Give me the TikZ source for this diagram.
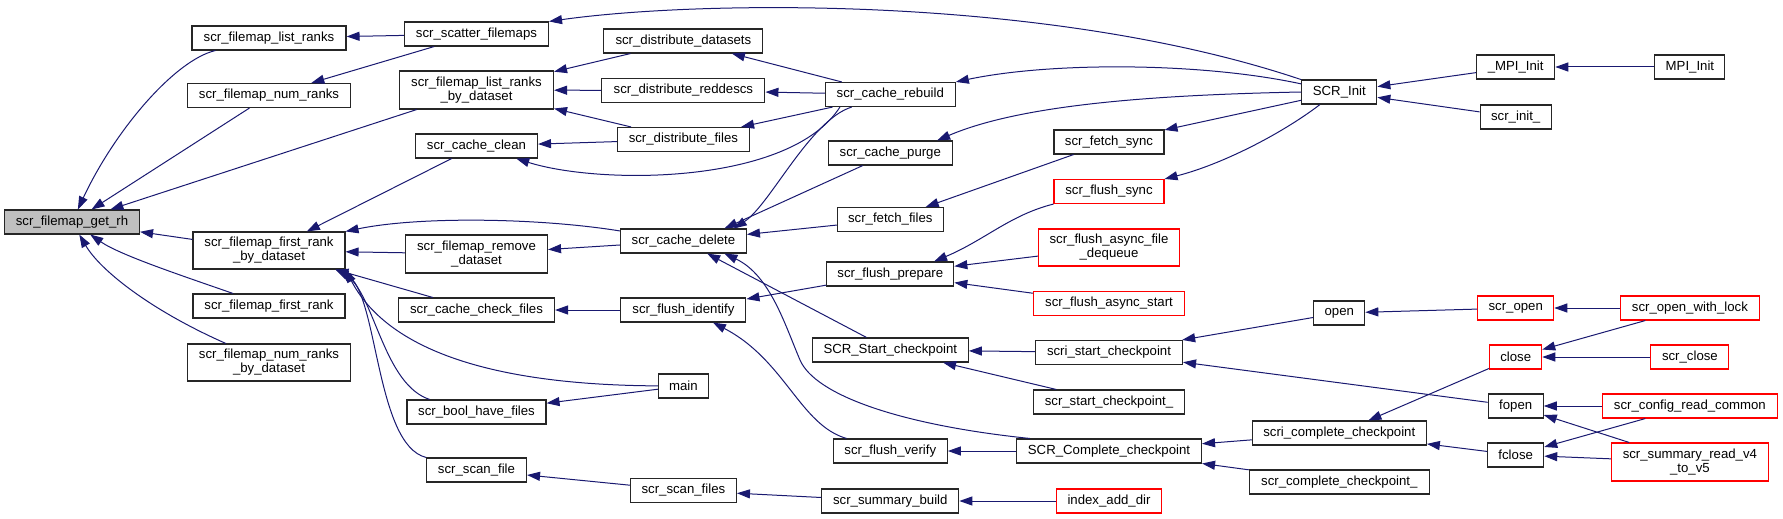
\documentclass[tikz,border=0pt]{standalone}
\usepackage{fontspec}
\setmainfont{Liberation Sans}
\usepackage{xcolor}
\usepackage{tikz}
\usetikzlibrary{arrows.meta, calc}

\definecolor{edgeblue}{HTML}{191970}
\definecolor{rootgray}{HTML}{BFBFBF}

\tikzset{
  fn/.style={draw=black!85, line width=1.1pt, fill=white, inner sep=0pt,
    minimum height=24pt, align=center, font=\fontsize{13.2}{14}\selectfont},
  fnred/.style={fn, draw=red},
  fnroot/.style={fn, fill=rootgray},
  call/.style={draw=edgeblue, line width=1pt, -{Triangle[length=13pt,width=9pt]}}
}

\begin{document}
\begin{tikzpicture}[x=1pt, y=-1pt]
  \useasboundingbox (0,0) rectangle (1783,519);

  % Root
  \node[fnroot, minimum width=135pt] (getrh) at (72,222) {scr\_filemap\_get\_rh};

  % Column 1
  \node[fn, minimum width=154pt] (listranks) at (269,38) {scr\_filemap\_list\_ranks};
  \node[fn, minimum width=163pt] (numranks) at (269,95.5) {scr\_filemap\_num\_ranks};
  \node[fn, minimum width=152pt, minimum height=37pt] (firstrankds) at (269,250.5) {scr\_filemap\_first\_rank\\\_by\_dataset};
  \node[fn, minimum width=152pt] (firstrank) at (269,306) {scr\_filemap\_first\_rank};
  \node[fn, minimum width=163pt, minimum height=37pt] (numranksds) at (269,362.5) {scr\_filemap\_num\_ranks\\\_by\_dataset};

  % Column 2
  \node[fn, minimum width=144pt] (scatter) at (476.5,34) {scr\_scatter\_filemaps};
  \node[fn, minimum width=154pt, minimum height=38pt] (listranksds) at (476.5,90) {scr\_filemap\_list\_ranks\\\_by\_dataset};
  \node[fn, minimum width=122pt] (cacheclean) at (476.5,146) {scr\_cache\_clean};
  \node[fn, minimum width=142pt, minimum height=38pt] (removeds) at (476.5,254) {scr\_filemap\_remove\\\_dataset};
  \node[fn, minimum width=156pt] (checkfiles) at (476.5,310) {scr\_cache\_check\_files};
  \node[fn, minimum width=139pt] (boolhave) at (476.5,412) {scr\_bool\_have\_files};
  \node[fn, minimum width=100pt] (scanfile) at (476.5,470) {scr\_scan\_file};

  % Column 3
  \node[fn, minimum width=159pt] (distds) at (683.4,41) {scr\_distribute\_datasets};
  \node[fn, minimum width=163pt] (distredd) at (683.4,90.5) {scr\_distribute\_reddescs};
  \node[fn, minimum width=132pt] (distfiles) at (683.4,139.5) {scr\_distribute\_files};
  \node[fn, minimum width=126pt] (cachedelete) at (683.4,241) {scr\_cache\_delete};
  \node[fn, minimum width=125pt] (identify) at (683.4,310) {scr\_flush\_identify};
  \node[fn, minimum width=50pt] (main) at (683.4,386) {main};
  \node[fn, minimum width=106pt] (scanfiles) at (683.4,490.5) {scr\_scan\_files};

  % Column 4
  \node[fn, minimum width=130pt] (rebuild) at (890.3,94.5) {scr\_cache\_rebuild};
  \node[fn, minimum width=124pt] (purge) at (890.3,153) {scr\_cache\_purge};
  \node[fn, minimum width=106pt] (fetchfiles) at (890.3,219.5) {scr\_fetch\_files};
  \node[fn, minimum width=127pt] (prepare) at (890.3,274) {scr\_flush\_prepare};
  \node[fn, minimum width=156pt] (startckpt) at (890.3,350) {SCR\_Start\_checkpoint};
  \node[fn, minimum width=114pt] (verify) at (890.3,451) {scr\_flush\_verify};
  \node[fn, minimum width=137pt] (sumbuild) at (890.3,501) {scr\_summary\_build};

  % Column 5
  \node[fn, minimum width=110pt] (fetchsync) at (1109,142) {scr\_fetch\_sync};
  \node[fnred, minimum width=110pt] (flushsync) at (1109,191.5) {scr\_flush\_sync};
  \node[fnred, minimum width=141pt, minimum height=37pt] (dequeue) at (1109,247.5) {scr\_flush\_async\_file\\\_dequeue};
  \node[fnred, minimum width=151pt] (asyncstart) at (1109,303.5) {scr\_flush\_async\_start};
  \node[fn, minimum width=147pt] (scristart) at (1109,352.5) {scri\_start\_checkpoint};
  \node[fn, minimum width=151pt] (startckptu) at (1109,402) {scr\_start\_checkpoint\_};
  \node[fn, minimum width=185pt] (completeckpt) at (1109,451) {SCR\_Complete\_checkpoint};
  \node[fnred, minimum width=105pt] (indexadd) at (1109,501) {index\_add\_dir};

  % Column 6
  \node[fn, minimum width=75pt] (scrinit) at (1339.3,92) {SCR\_Init};
  \node[fn, minimum width=51pt] (open) at (1339.3,313) {open};
  \node[fn, minimum width=174pt] (scricomplete) at (1339.3,433) {scri\_complete\_checkpoint};
  \node[fn, minimum width=180pt] (completeu) at (1339.3,482) {scr\_complete\_checkpoint\_};

  % Column 7
  \node[fn, minimum width=78pt] (mpiinitu) at (1515.7,67) {\_MPI\_Init};
  \node[fn, minimum width=71pt] (scrinitu) at (1515.7,117) {scr\_init\_};
  \node[fnred, minimum width=76pt] (scropen) at (1515.7,308) {scr\_open};
  \node[fnred, minimum width=52pt] (close) at (1515.7,357) {close};
  \node[fn, minimum width=55pt] (fopen) at (1515.7,406) {fopen};
  \node[fn, minimum width=56pt] (fclose) at (1515.7,455) {fclose};

  % Column 8
  \node[fn, minimum width=70pt] (mpiinit) at (1689.9,67) {MPI\_Init};
  \node[fnred, minimum width=139pt] (openlock) at (1689.9,308) {scr\_open\_with\_lock};
  \node[fnred, minimum width=78pt] (scrclose) at (1689.9,357) {scr\_close};
  \node[fnred, minimum width=175pt] (configread) at (1689.9,406) {scr\_config\_read\_common};
  \node[fnred, minimum width=157pt, minimum height=38pt] (sumread) at (1689.9,462) {scr\_summary\_read\_v4\\\_to\_v5};

  % Callers of scr_filemap_get_rh
  \draw[call] (listranks) .. controls (175,60) and (115,130) .. (getrh);
  \draw[call] (numranks) -- (getrh);
  \draw[call] (listranksds) -- (getrh);
  \draw[call] (firstrankds) -- (getrh);
  \draw[call] (firstrank) .. controls (180,275) and (120,255) .. (getrh);
  \draw[call] (numranksds) .. controls (150,310) and (100,270) .. (getrh);

  % Column 2 -> column 1
  \draw[call] (scatter) -- (listranks);
  \draw[call] (scatter) -- (numranks);
  \draw[call] (removeds) -- (firstrankds);
  \draw[call] (checkfiles) -- (firstrankds);
  \draw[call] (cacheclean) -- (firstrankds);
  \draw[call] (boolhave.165) .. controls (385,385) and (375,300) .. (firstrankds.-15);
  \draw[call] (scanfile.166) .. controls (375,445) and (378,290) .. (firstrankds.-16);
  \draw[call] (main) .. controls (480,385) and (385,345) .. (firstrankds.-14);
  \draw[call] (cachedelete.171) .. controls (540,218) and (420,216) .. (firstrankds.north east);

  % Column 3 -> column 2
  \draw[call] (distds) -- (listranksds);
  \draw[call] (distredd) -- (listranksds);
  \draw[call] (distfiles) -- (listranksds);
  \draw[call] (distfiles) -- (cacheclean);
  \draw[call] (cachedelete) -- (removeds);
  \draw[call] (identify) -- (checkfiles);
  \draw[call] (main) -- (boolhave);
  \draw[call] (scanfiles) -- (scanfile);

  % Column 4 -> column 3
  \draw[call] (rebuild) -- (distds);
  \draw[call] (rebuild) -- (distredd);
  \draw[call] (rebuild) -- (distfiles);
  \draw[call] (rebuild.-166) .. controls (790,185) and (600,185) .. (cacheclean);
  \draw[call] (rebuild.-162) .. controls (810,120) and (770,205) .. (cachedelete.14);
  \draw[call] (purge) -- (cachedelete.17);
  \draw[call] (fetchfiles) -- (cachedelete);
  \draw[call] (startckpt) -- (cachedelete);
  \draw[call] (completeckpt.171) .. controls (900,425) and (815,395) .. (800,360)
    .. controls (785,325) and (770,275) .. (cachedelete.-17);
  \draw[call] (prepare) -- (identify);
  \draw[call] (verify.164) .. controls (800,425) and (785,360) .. (identify.-23);
  \draw[call] (sumbuild) -- (scanfiles);

  % Column 5 -> column 4
  \draw[call] (fetchsync) -- (fetchfiles);
  \draw[call] (flushsync.south west) .. controls (1010,215) and (985,240) .. (prepare.16);
  \draw[call] (dequeue) -- (prepare);
  \draw[call] (asyncstart) -- (prepare);
  \draw[call] (scristart) -- (startckpt);
  \draw[call] (startckptu) -- (startckpt);
  \draw[call] (completeckpt) -- (verify);
  \draw[call] (indexadd) -- (sumbuild);

  % SCR_Init
  \draw[call] (scrinit.162) .. controls (1050,-5) and (700,0) .. (scatter.north east);
  \draw[call] (scrinit.168) .. controls (1200,62) and (1050,62) .. (rebuild.north east);
  \draw[call] (scrinit.west) .. controls (1150,95) and (1020,105) .. (purge.15);
  \draw[call] (scrinit) -- (fetchsync);
  \draw[call] (scrinit.-147) .. controls (1280,135) and (1220,165) .. (flushsync.north east);

  % Column 6 -> column 5
  \draw[call] (open) -- (scristart);
  \draw[call] (scricomplete) -- (completeckpt);
  \draw[call] (completeu) -- (completeckpt);

  % Column 7 -> column 6
  \draw[call] (mpiinitu) -- (scrinit);
  \draw[call] (scrinitu) -- (scrinit);
  \draw[call] (scropen) -- (open);
  \draw[call] (fopen) -- (scristart);
  \draw[call] (close) -- (scricomplete);
  \draw[call] (fclose) -- (scricomplete);

  % Column 8 -> column 7
  \draw[call] (mpiinit) -- (mpiinitu);
  \draw[call] (openlock) -- (scropen);
  \draw[call] (openlock) -- (close);
  \draw[call] (scrclose) -- (close);
  \draw[call] (configread) -- (fopen);
  \draw[call] (sumread) -- (fopen);
  \draw[call] (configread) -- (fclose);
  \draw[call] (sumread) -- (fclose);
\end{tikzpicture}
\end{document}
